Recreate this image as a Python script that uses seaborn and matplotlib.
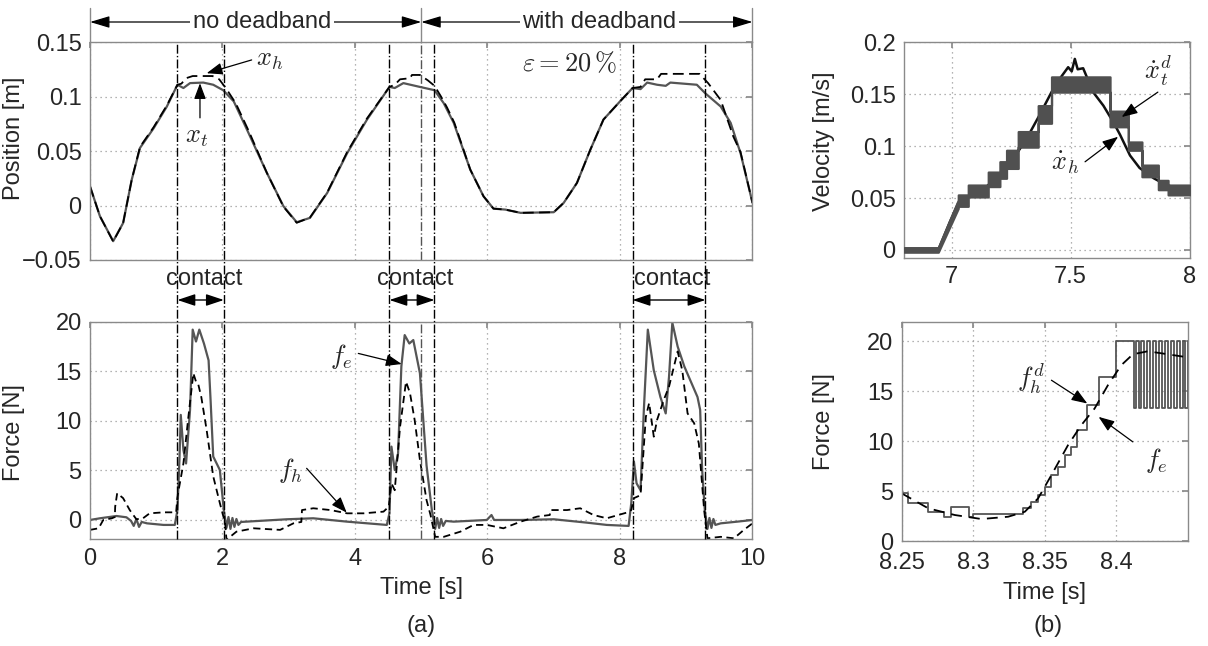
import numpy as np
import pandas as pd
import matplotlib
matplotlib.use("Agg")
import matplotlib.pyplot as plt
import seaborn as sns
from matplotlib.lines import Line2D
from matplotlib.transforms import blended_transform_factory as blend

# ---------------- data ----------------
# (a) top: position [m]
xt_points = [(0, 0.0177), (0.15, -0.0098), (0.35, -0.0327), (0.5, -0.016), (0.63, 0.0238),
             (0.755, 0.053), (0.96, 0.071), (1.16, 0.091), (1.32, 0.111), (1.41, 0.108),
             (1.51, 0.1125), (1.71, 0.113), (1.86, 0.111), (2.01, 0.106), (2.17, 0.0957),
             (2.37, 0.0697), (2.67, 0.030), (2.92, -0.0006), (3.12, -0.0153), (3.32, -0.0113),
             (3.58, 0.0116), (3.88, 0.048), (4.18, 0.0789), (4.52, 0.109), (4.6, 0.108),
             (4.73, 0.1125), (4.98, 0.109), (5.2, 0.106), (5.34, 0.094), (5.49, 0.076),
             (5.74, 0.033), (5.94, 0.0085), (6.09, -0.0028), (6.27, -0.0037), (6.5, -0.0067),
             (7.0, -0.0061), (7.15, 0.0025), (7.35, 0.0208), (7.55, 0.051), (7.75, 0.079),
             (8.0, 0.0957), (8.19, 0.108), (8.31, 0.107), (8.41, 0.113), (8.56, 0.111),
             (8.69, 0.110), (8.76, 0.113), (9.16, 0.111), (9.29, 0.103), (9.52, 0.091),
             (9.67, 0.076), (9.82, 0.048), (10.0, 0.0025)]
xh_points = [(0, 0.0177), (0.15, -0.0098), (0.35, -0.033), (0.5, -0.016), (0.63, 0.0238),
             (0.755, 0.054), (0.96, 0.072), (1.16, 0.092), (1.32, 0.111), (1.38, 0.112),
             (1.45, 0.117), (1.55, 0.119), (1.85, 0.119), (1.95, 0.116), (2.05, 0.108),
             (2.2, 0.094), (2.4, 0.068), (2.67, 0.030), (2.92, -0.001), (3.12, -0.0158),
             (3.32, -0.011), (3.58, 0.012), (3.88, 0.049), (4.18, 0.080), (4.52, 0.109),
             (4.6, 0.111), (4.68, 0.116), (4.83, 0.117), (4.86, 0.120), (4.98, 0.120),
             (5.1, 0.115), (5.2, 0.110), (5.3, 0.100), (5.39, 0.090), (5.5, 0.076),
             (5.74, 0.033), (5.94, 0.0085), (6.09, -0.0028), (6.27, -0.0037), (6.5, -0.0067),
             (7.0, -0.0061), (7.15, 0.0025), (7.35, 0.0208), (7.55, 0.051), (7.75, 0.079),
             (8.0, 0.0957), (8.19, 0.108), (8.31, 0.109), (8.38, 0.116), (8.56, 0.116),
             (8.62, 0.121), (9.2, 0.121), (9.33, 0.1125), (9.52, 0.097), (9.71, 0.0635),
             (9.82, 0.049), (10.0, 0.0025)]

# (a) bottom: force [N]
fe_points = [(0, 0), (0.15, 0.17), (0.40, 0.4), (0.55, 0.27), (0.62, -0.1), (0.66, -0.6),
             (0.70, 0.1), (0.74, -0.7), (0.78, -0.2), (0.86, -0.34), (1.11, -0.5), (1.28, -0.5),
             (1.32, 1.0), (1.35, 6.05), (1.37, 10.6), (1.41, 7.06), (1.45, 5.7), (1.51, 11.1),
             (1.55, 19.2), (1.60, 18.0), (1.65, 19.2), (1.72, 17.8), (1.79, 16.1), (1.82, 12.1),
             (1.86, 6.4), (1.96, 5.04), (2.02, 1.0), (2.06, -0.8), (2.09, 0.3), (2.12, -0.9),
             (2.15, 0.2), (2.18, -0.7), (2.21, 0.1), (2.24, -0.5), (2.28, -0.2), (2.36, -0.17),
             (2.97, 0.07), (3.37, 0.17), (3.88, -0.17), (4.48, -0.5), (4.52, 0.67), (4.55, 7.4),
             (4.60, 5.04), (4.65, 6.7), (4.70, 15.5), (4.75, 18.65), (4.82, 17.8), (4.88, 18.15),
             (4.98, 14.8), (5.08, 5.5), (5.16, 1.0), (5.21, -0.9), (5.24, 0.2), (5.27, -0.8),
             (5.30, 0.1), (5.33, -0.6), (5.37, -0.1), (5.49, -0.17), (5.99, 0), (6.06, 0.5),
             (6.1, 0), (6.5, 0), (7.0, 0.07), (7.5, -0.27), (7.8, -0.5), (8.13, -0.6),
             (8.17, 1.7), (8.21, 5.9), (8.25, 3.7), (8.31, 3.0), (8.36, 11.1), (8.42, 19.2),
             (8.51, 15.1), (8.61, 12.4), (8.69, 10.75), (8.74, 14.45), (8.79, 19.9), (8.87, 17.5),
             (8.97, 15.5), (9.07, 13.95), (9.17, 12.4), (9.21, 11.1), (9.24, 5.04), (9.28, 1.0),
             (9.32, -0.9), (9.35, 0.2), (9.38, -0.8), (9.41, 0.1), (9.44, -0.5), (9.52, -0.34),
             (9.77, -0.17), (10.0, 0)]
fh_points = [(0, -1.0), (0.13, -0.84), (0.2, 0), (0.33, 0.17), (0.375, 0.3), (0.38, 1.34),
             (0.41, 2.7), (0.5, 2.2), (0.6, 1.0), (0.7, 0.07), (0.8, 0.17), (0.9, 0.67),
             (1.11, 0.77), (1.3, 0.77), (1.32, 2.35), (1.41, 5.7), (1.48, 10.1), (1.56, 14.8),
             (1.6, 13.95), (1.63, 13.8), (1.68, 12.4), (1.76, 9.1), (1.86, 4.4), (1.96, 1.7),
             (2.04, -0.34), (2.06, -2.0), (2.21, -1.18), (2.47, -0.84), (2.87, -1.0),
             (3.07, -0.34), (3.19, -0.2), (3.2, 1.0), (3.37, 1.18), (3.63, 1.0), (3.88, 0.67),
             (4.13, 0.67), (4.43, 0.84), (4.51, 1.34), (4.55, 3.7), (4.6, 3.0), (4.68, 9.4),
             (4.77, 13.95), (4.83, 12.8), (4.9, 10.1), (4.98, 6.05), (5.08, 2.0), (5.14, 0.5),
             (5.21, -1.7), (5.34, -1.7), (5.59, -1.18), (5.79, -0.5), (5.99, -0.5),
             (6.24, -0.84), (6.5, -0.17), (6.75, 0.34), (6.94, 0.5), (6.95, 1.0), (7.2, 1.0),
             (7.4, 1.18), (7.6, 0.5), (7.8, 0.17), (8.1, 0.74), (8.17, 1.0), (8.21, 2.2),
             (8.31, 2.5), (8.39, 10.4), (8.44, 11.8), (8.51, 8.4), (8.56, 10.1), (8.66, 12.1),
             (8.74, 13.45), (8.87, 17.0), (8.94, 15.1), (9.02, 10.75), (9.12, 9.75),
             (9.19, 7.7), (9.27, 1.0), (9.32, -1.85), (9.52, -1.7), (9.72, -1.85),
             (9.87, -1.0), (10.0, -0.34)]

contact_start = [1.32, 4.52, 8.19]
contact_end = [2.02, 5.2, 9.29]
deadband_switch = 5.0
header_labels = ["no deadband", "with deadband"]

# (b) top: velocity [m/s]; desired velocity band (time, lower, upper)
vel_band = [(6.800, -0.0022, 0.0022), (6.944, -0.0022, 0.0022), (7.028, 0.040, 0.048),
            (7.028, 0.042, 0.053), (7.070, 0.042, 0.053), (7.070, 0.051, 0.0625),
            (7.154, 0.051, 0.0625), (7.154, 0.061, 0.075), (7.203, 0.061, 0.075),
            (7.203, 0.069, 0.085), (7.231, 0.069, 0.085), (7.231, 0.0785, 0.096),
            (7.280, 0.0785, 0.096), (7.280, 0.099, 0.114), (7.364, 0.099, 0.114),
            (7.364, 0.122, 0.139), (7.420, 0.122, 0.139), (7.420, 0.152, 0.1667),
            (7.666, 0.152, 0.1667), (7.666, 0.1186, 0.1337), (7.743, 0.1186, 0.1337),
            (7.743, 0.096, 0.104), (7.800, 0.096, 0.104), (7.800, 0.0705, 0.0817),
            (7.869, 0.0705, 0.0817), (7.869, 0.058, 0.067), (7.910, 0.058, 0.067),
            (7.910, 0.053, 0.0625), (8.000, 0.053, 0.0625)]
vel_h_points = [(6.8, 0), (6.944, 0), (6.993, 0.027), (7.028, 0.045), (7.063, 0.05),
                (7.147, 0.061), (7.2, 0.072), (7.26, 0.088), (7.315, 0.107), (7.37, 0.13),
                (7.42, 0.152), (7.455, 0.165), (7.49, 0.176), (7.505, 0.172), (7.518, 0.184),
                (7.53, 0.174), (7.553, 0.175), (7.595, 0.152), (7.638, 0.139), (7.68, 0.123),
                (7.708, 0.111), (7.75, 0.091), (7.79, 0.079), (7.85, 0.069), (7.89, 0.064),
                (7.946, 0.059), (8.0, 0.059)]

# (b) bottom: force [N]
fhd_steps = [(8.2500, 4.77), (8.2547, 3.77), (8.2686, 2.93), (8.2798, 2.37), (8.2844, 3.43),
             (8.2970, 2.37), (8.3000, 2.70), (8.3349, 3.33), (8.3407, 3.93), (8.3454, 4.60),
             (8.3500, 5.43), (8.3547, 6.60), (8.3593, 7.43), (8.3640, 8.60), (8.3686, 9.43),
             (8.3728, 11.10), (8.3798, 13.60), (8.3877, 16.43), (8.4000, 20.00),
             (8.4123, 13.3), (8.4140, 20.0), (8.4158, 13.3), (8.4175, 20.0), (8.4193, 13.3),
             (8.4214, 20.0), (8.4233, 13.3), (8.4256, 20.0), (8.4275, 13.3), (8.4298, 20.0),
             (8.4321, 13.3), (8.4342, 20.0), (8.4363, 13.3), (8.4384, 20.0), (8.4407, 13.3),
             (8.4426, 20.0), (8.4447, 13.3), (8.4465, 20.0), (8.4484, 13.3), (8.4500, 20.0)]
fe_b_points = [(8.25, 4.77), (8.2686, 3.27), (8.2872, 2.6), (8.3058, 2.2), (8.3244, 2.43),
               (8.3361, 2.93), (8.3454, 4.27), (8.3547, 6.6), (8.3663, 9.6), (8.3756, 11.6),
               (8.3849, 13.27), (8.3942, 15.6), (8.4035, 17.6), (8.4117, 18.7), (8.4221, 19.0),
               (8.4314, 18.8), (8.4496, 18.4)]

# ---------------- style ----------------
sns.set_theme(style="white")
plt.rcParams["font.family"] = ["Liberation Sans", "DejaVu Sans"]
plt.rcParams["mathtext.fontset"] = "cm"

GRAY = "#555555"
FRAME = "#8a8a8a"
TICK_FS = 17
LAB_FS = 17
MFS = 19

fig = plt.figure(figsize=(12.08, 6.46), dpi=100)
W, H = 1208.0, 646.0

def axes_px(left, top, right, bottom):
    return fig.add_axes([left / W, 1 - bottom / H, (right - left) / W, (bottom - top) / H])

ax1 = axes_px(90, 42.3, 752.5, 260)
ax2 = axes_px(90, 321.7, 752.5, 539.3)
ax3 = axes_px(904, 42.3, 1189.5, 257.7)
ax4 = axes_px(901.7, 322.3, 1187.7, 541)

def style(ax):
    for s in ax.spines.values():
        s.set_color(FRAME)
        s.set_linewidth(1.0)
    ax.grid(True, linestyle=(0, (1, 3)), color="#9a9a9a", linewidth=0.9)
    ax.tick_params(axis="both", which="both", direction="in", length=4, color=FRAME,
                   labelsize=TICK_FS, pad=6, top=True, right=True)

def frame(points):
    t, v = zip(*points)
    return pd.DataFrame({"t": t, "v": v})

ARROW = dict(arrowstyle="-|>,head_length=0.8,head_width=0.3", color="black", lw=0.9,
             shrinkA=0, shrinkB=0, mutation_scale=12)

def note(ax, text, txy, start, tip):
    ax.text(txy[0], txy[1], text, fontsize=MFS, ha="center", va="center", zorder=7)
    ax.annotate("", xy=tip, xytext=start, arrowprops=ARROW, zorder=7)

# ---- (a) position ----
d = frame(xt_points)
sns.lineplot(data=d, x="t", y="v", ax=ax1, color=GRAY, lw=1.6, estimator=None, sort=False)
d = frame(xh_points)
sns.lineplot(data=d, x="t", y="v", ax=ax1, color="black", lw=1.3, linestyle=(0, (6, 3)),
             estimator=None, sort=False)
ax1.set_xlim(0, 10)
ax1.set_ylim(-0.05, 0.15)
ax1.set_xticks([0, 2, 4, 6, 8, 10])
ax1.set_xticklabels([])
ax1.set_yticks([-0.05, 0, 0.05, 0.1, 0.15])
ax1.set_yticklabels(["\u22120.05", "0", "0.05", "0.1", "0.15"])
ax1.set_xlabel("")
ax1.set_ylabel("Position [m]", fontsize=LAB_FS)
ax1.yaxis.set_label_coords(-0.098, 0.56)
style(ax1)

# ---- (a) force ----
d = frame(fe_points)
sns.lineplot(data=d, x="t", y="v", ax=ax2, color=GRAY, lw=1.6, estimator=None, sort=False)
d = frame(fh_points)
sns.lineplot(data=d, x="t", y="v", ax=ax2, color="black", lw=1.3, linestyle=(0, (4, 2.5)),
             estimator=None, sort=False)
ax2.set_xlim(0, 10)
ax2.set_ylim(-1.95, 20)
ax2.set_xticks([0, 2, 4, 6, 8, 10])
ax2.set_yticks([0, 5, 10, 15, 20])
ax2.set_xlabel("Time [s]", fontsize=LAB_FS, labelpad=5)
ax2.set_ylabel("Force [N]", fontsize=LAB_FS)
ax2.yaxis.set_label_coords(-0.098, 0.49)
style(ax2)

for ax in (ax1, ax2):
    ax.axvline(deadband_switch, color=GRAY, lw=1.0, linestyle="-.")

# contact lines spanning both panels
tr = blend(ax1.transData, fig.transFigure)
y_bot = 1 - 539.3 / H
y_top = 1 - 42.3 / H
for t in contact_start + contact_end:
    fig.add_artist(Line2D([t, t], [y_bot, y_top], transform=tr, color="black",
                          lw=1.0, linestyle="-.", zorder=5))

# contact arrows and labels
y_arr = 1 - 300 / H
y_txt = 1 - 279 / H
for a, b in zip(contact_start, contact_end):
    ax2.annotate("", xy=(b, y_arr), xytext=(a, y_arr), xycoords=tr, textcoords=tr,
                 arrowprops=dict(arrowstyle="<|-|>,head_length=0.9,head_width=0.3",
                                 color="black", lw=1.0, shrinkA=0, shrinkB=0,
                                 mutation_scale=12), annotation_clip=False)
    fig.text((a + b) / 2 + 0.05, y_txt, "contact", transform=tr, fontsize=LAB_FS,
             ha="center", va="center")

# header: deadband arrows
y_h = 1 - 22 / H
for t in [0, deadband_switch, 10]:
    fig.add_artist(Line2D([t, t], [1 - 8 / H, y_top], transform=tr, color=FRAME, lw=1.0))
for (a, b), label, c in zip([(0, deadband_switch), (deadband_switch, 10)], header_labels,
                            [2.6, 7.69]):
    ax1.annotate("", xy=(b, y_h), xytext=(a, y_h), xycoords=tr, textcoords=tr,
                 arrowprops=dict(arrowstyle="<|-|>,head_length=1.0,head_width=0.3",
                                 color="black", lw=0.9, shrinkA=0, shrinkB=0,
                                 mutation_scale=12), annotation_clip=False)
    fig.text(c, y_h, label, transform=tr, fontsize=LAB_FS, ha="center", va="center",
             bbox=dict(facecolor="white", edgecolor="none", pad=2))

# annotations (a)
note(ax1, "$x_h$", (2.717, 0.1338), (2.44, 0.1338), (1.761, 0.1216))
note(ax1, "$x_t$", (1.615, 0.0632), (1.66, 0.0806), (1.66, 0.1124))
ax1.text(7.24, 0.131, r"$\varepsilon = 20\,\%$", fontsize=MFS, ha="center", va="center")
note(ax2, "$f_e$", (3.80, 16.53), (4.05, 16.8), (4.705, 15.73))
note(ax2, "$f_h$", (3.034, 4.94), (3.27, 5.21), (3.875, 0.74))

# ---- (b) velocity ----
vt, vlo, vhi = zip(*vel_band)
d = frame(vel_h_points)
sns.lineplot(data=d, x="t", y="v", ax=ax3, color="#111111", lw=1.8, estimator=None, sort=False)
ax3.fill_between(vt, vlo, vhi, color="#505050", lw=1.6, edgecolor="#505050", zorder=3)
ax3.set_xlim(6.8, 8.0)
ax3.set_ylim(-0.0075, 0.2)
ax3.set_xticks([7, 7.5, 8])
ax3.set_xticklabels(["7", "7.5", "8"])
ax3.set_yticks([0, 0.05, 0.1, 0.15, 0.2])
ax3.set_yticklabels(["0", "0.05", "0.1", "0.15", "0.2"])
ax3.set_xlabel("")
ax3.set_ylabel("Velocity [m/s]", fontsize=LAB_FS)
ax3.yaxis.set_label_coords(-0.242, 0.54)
style(ax3)
note(ax3, r"$\dot{x}_t^d$", (7.867, 0.172), (7.867, 0.152), (7.715, 0.128))
note(ax3, r"$\dot{x}_h$", (7.476, 0.0837), (7.561, 0.0849), (7.70, 0.109))

# ---- (b) force ----
d = frame(fhd_steps)
sns.lineplot(data=d, x="t", y="v", ax=ax4, color=GRAY, lw=1.3, estimator=None, sort=False,
             drawstyle="steps-post")
d = frame(fe_b_points)
sns.lineplot(data=d, x="t", y="v", ax=ax4, color="black", lw=1.3, linestyle=(0, (6, 4)),
             estimator=None, sort=False)
ax4.set_xlim(8.25, 8.45)
ax4.set_ylim(0, 21.9)
ax4.set_xticks([8.25, 8.3, 8.35, 8.4])
ax4.set_xticklabels(["8.25", "8.3", "8.35", "8.4"])
ax4.set_yticks([0, 5, 10, 15, 20])
ax4.set_xlabel("Time [s]", fontsize=LAB_FS, labelpad=6)
ax4.set_ylabel("Force [N]", fontsize=LAB_FS)
ax4.yaxis.set_label_coords(-0.233, 0.545)
style(ax4)
ax4.tick_params(axis="x", pad=8)
note(ax4, "$f_h^d$", (8.3407, 16.3), (8.3547, 16.1), (8.3798, 13.77))
note(ax4, "$f_e$", (8.428, 8.1), (8.4116, 9.93), (8.3877, 12.43))

fig.text(421 / W, 1 - 626 / H, "(a)", fontsize=LAB_FS, ha="center", va="center")
fig.text(1048 / W, 1 - 626 / H, "(b)", fontsize=LAB_FS, ha="center", va="center")

fig.savefig("out.png", dpi=100)
